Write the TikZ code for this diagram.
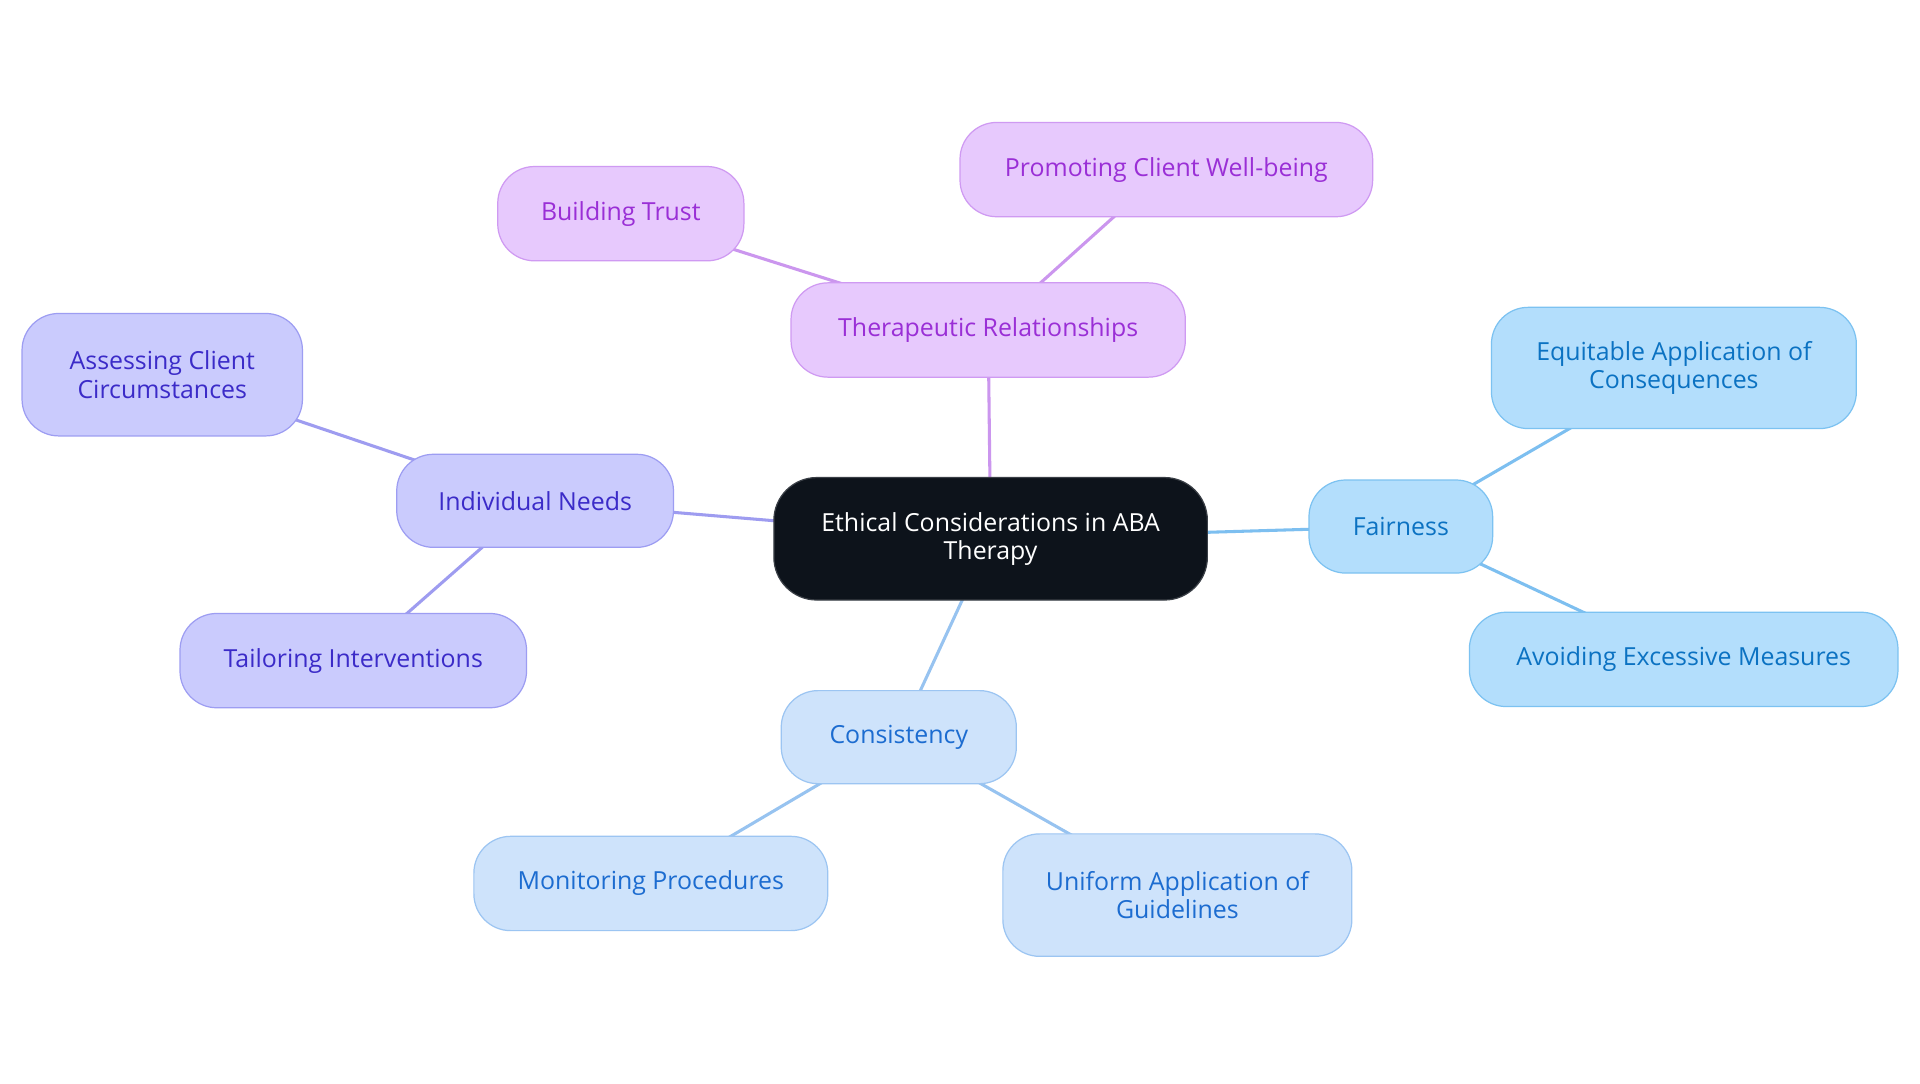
\documentclass[tikz,border=0pt]{standalone}
\usepackage{fontspec}
\setmainfont{Open Sans}
\usetikzlibrary{backgrounds}
\definecolor{cdark}{HTML}{0D131B}
\definecolor{cdarkb}{HTML}{3A3F46}
\definecolor{pfill}{HTML}{E7C9FD}
\definecolor{pdraw}{HTML}{CF9AF2}
\definecolor{ptext}{HTML}{9A2FD6}
\definecolor{pedge}{HTML}{CB96EE}
\definecolor{ifill}{HTML}{CACBFD}
\definecolor{idraw}{HTML}{9D9DF2}
\definecolor{itext}{HTML}{3B2BC8}
\definecolor{iedge}{HTML}{9E9CF0}
\definecolor{ffill}{HTML}{B3DEFC}
\definecolor{fdraw}{HTML}{7CC2F1}
\definecolor{ftext}{HTML}{0B72C2}
\definecolor{fedge}{HTML}{7DBFF0}
\definecolor{cfill}{HTML}{CEE3FB}
\definecolor{cdraw}{HTML}{9CC5F2}
\definecolor{ctext}{HTML}{1C6CD0}
\definecolor{cedge}{HTML}{97C3F0}
\begin{document}
\begin{tikzpicture}[x=0.6pt,y=-0.6pt,
  base/.style={rounded corners=18pt, line width=0.6pt, inner sep=0pt, align=center,
    font=\fontsize{12.2}{13.8}\selectfont},
  sz/.style 2 args={minimum width=#1*0.6pt, minimum height=#2*0.6pt},
  rootbox/.style={base, fill=cdark, draw=cdarkb, text=white, rounded corners=21pt},
  pbox/.style={base, fill=pfill, draw=pdraw, text=ptext},
  ibox/.style={base, fill=ifill, draw=idraw, text=itext},
  fbox/.style={base, fill=ffill, draw=fdraw, text=ftext},
  cbox/.style={base, fill=cfill, draw=cdraw, text=ctext},
  link/.style={line width=1.5pt}
]
\useasboundingbox (0,0) rectangle (1568,884.5);

\node[rootbox, sz={354}{100}] (root) at (809,440) {Ethical Considerations in ABA\\Therapy};

\node[pbox, sz={322}{77}] (ther) at (807,269.5) {Therapeutic Relationships};
\node[pbox, sz={201}{77}] (trust) at (507,174.5) {Building Trust};
\node[pbox, sz={337}{77}] (prom) at (952.5,138.5) {Promoting Client Well-being};

\node[ibox, sz={226}{76}] (indiv) at (437,409) {Individual Needs};
\node[ibox, sz={229}{100}] (assess) at (132.5,306) {Assessing Client\\Circumstances};
\node[ibox, sz={283}{77}] (tailor) at (288.5,539.5) {Tailoring Interventions};

\node[fbox, sz={150}{76}] (fair) at (1144,430) {Fairness};
\node[fbox, sz={298}{99}] (equit) at (1367,300.5) {Equitable Application of\\Consequences};
\node[fbox, sz={350}{77}] (avoid) at (1375,538.5) {Avoiding Excessive Measures};

\node[cbox, sz={192}{76}] (cons) at (734,602) {Consistency};
\node[cbox, sz={289}{77}] (monit) at (531.5,721.5) {Monitoring Procedures};
\node[cbox, sz={285}{100}] (unif) at (961.5,731) {Uniform Application of\\Guidelines};

\begin{pgfonlayer}{background}
\fill[white] (0,0) rectangle (1568,884.5);
\draw[link, pedge] (root.center) -- (ther.center);
\draw[link, pedge] (ther.center) -- (trust.center);
\draw[link, pedge] (ther.center) -- (prom.center);
\draw[link, iedge] (root.center) -- (indiv.center);
\draw[link, iedge] (indiv.center) -- (assess.center);
\draw[link, iedge] (indiv.center) -- (tailor.center);
\draw[link, fedge] (root.center) -- (fair.center);
\draw[link, fedge] (fair.center) -- (equit.center);
\draw[link, fedge] (fair.center) -- (avoid.center);
\draw[link, cedge] (root.center) -- (cons.center);
\draw[link, cedge] (cons.center) -- (monit.center);
\draw[link, cedge] (cons.center) -- (unif.center);
\end{pgfonlayer}
\end{tikzpicture}
\end{document}
